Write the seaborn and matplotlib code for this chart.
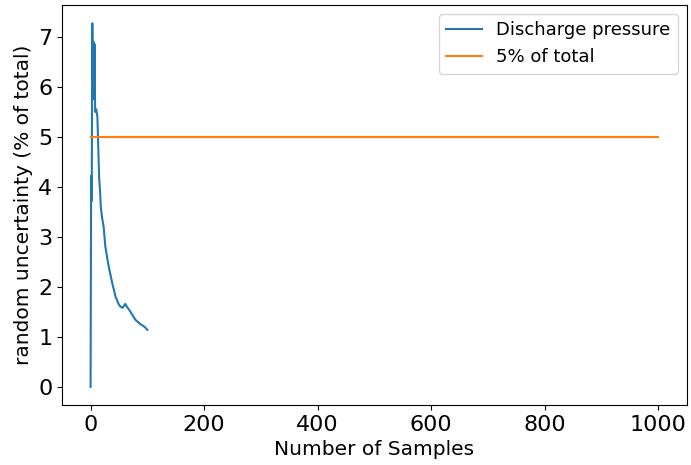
import matplotlib
matplotlib.use("Agg")
import matplotlib.pyplot as plt
import seaborn as sns
import pandas as pd

# Random uncertainty of discharge pressure vs. number of samples
samples = [0, 1, 2, 3, 4, 5, 6, 7, 8, 10, 12, 13, 14, 15, 17, 18, 20, 23, 26,
           32, 38, 44, 50, 53, 56, 59, 61, 64, 68, 73, 79, 87, 95, 100]
uncertainty = [0.0, 4.22, 3.72, 7.27, 6.1, 6.9, 5.75, 6.85, 5.5, 5.55, 5.4,
               5.0, 4.6, 4.2, 3.85, 3.6, 3.4, 3.2, 2.8, 2.4, 2.08, 1.8, 1.64,
               1.6, 1.58, 1.62, 1.66, 1.6, 1.54, 1.45, 1.34, 1.26, 1.2, 1.14]

# 5% threshold across the full sample range
threshold_x = [0, 1000]
threshold_y = [5, 5]

df = pd.DataFrame({"samples": samples, "uncertainty": uncertainty})
thr = pd.DataFrame({"samples": threshold_x, "uncertainty": threshold_y})

fig, ax = plt.subplots(figsize=(6.91, 4.65), dpi=100)
fig.subplots_adjust(left=0.09, right=0.994, bottom=0.129, top=0.989)

sns.lineplot(data=df, x="samples", y="uncertainty", ax=ax, color="#1f77b4",
             label="Discharge pressure", estimator=None, sort=False)
sns.lineplot(data=thr, x="samples", y="uncertainty", ax=ax, color="#ff7f0e",
             label="5% of total", estimator=None)

ax.set_xlabel("Number of Samples", fontsize=14.5)
ax.set_ylabel("random uncertainty (% of total)", fontsize=14.5)
ax.tick_params(labelsize=16)
ax.set_xticks([0, 200, 400, 600, 800, 1000])
ax.set_yticks(range(0, 8))
ax.legend(fontsize=13, loc="upper right")

fig.savefig("out.png", dpi=100)
